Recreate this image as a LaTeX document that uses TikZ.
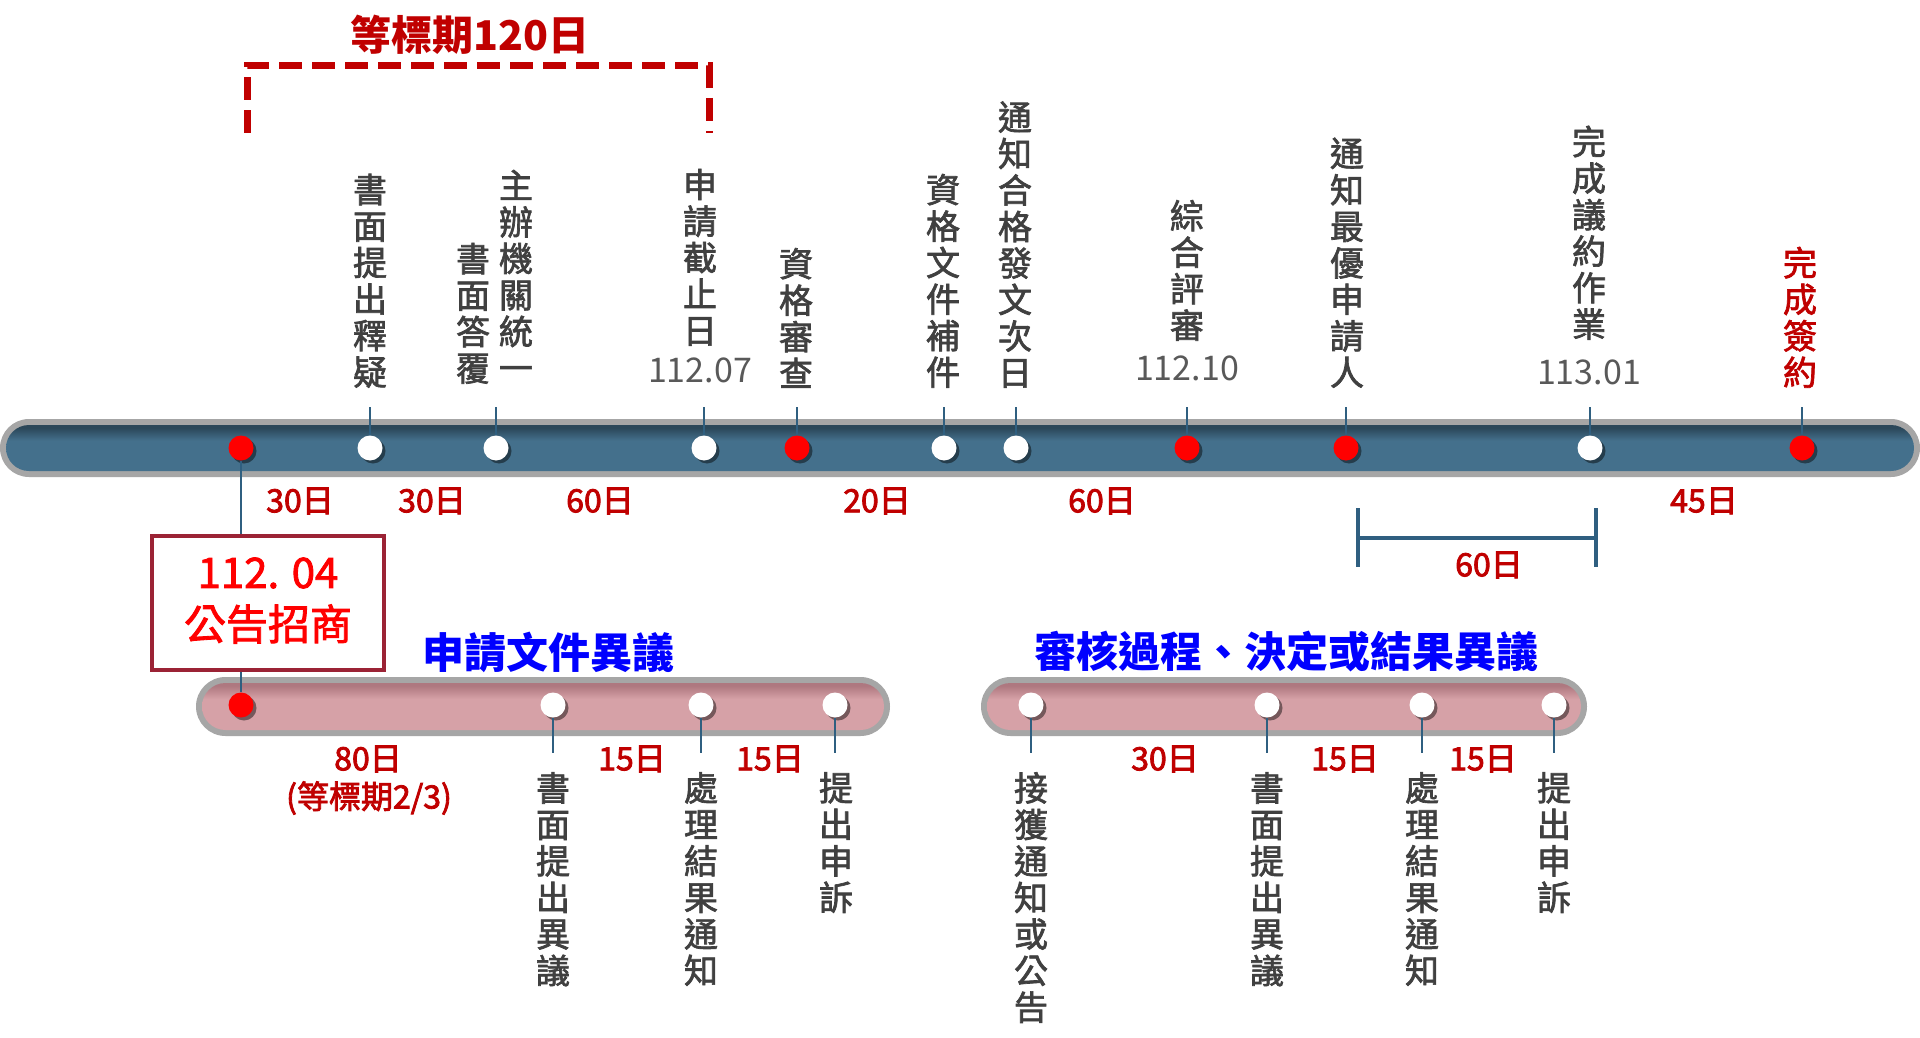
\documentclass[tikz,border=0pt]{standalone}
\usepackage{fontspec}
\setmainfont{Noto Sans CJK TC}
\newfontfamily\labfont[FakeBold=2]{Noto Sans CJK TC}
\newfontfamily\durfont[FakeBold=2.5]{Noto Sans CJK TC}
\usetikzlibrary{shadows}
\definecolor{darkred}{HTML}{C00000}
\definecolor{labgray}{HTML}{404040}
\definecolor{dategray}{HTML}{595959}
\definecolor{barblue}{HTML}{44708C}
\definecolor{barbluedark}{HTML}{2B4759}
\definecolor{barpink}{HTML}{D6A1A7}
\definecolor{barpinkdark}{HTML}{AE7880}
\definecolor{bargray}{HTML}{A6A6A6}
\definecolor{tickblue}{HTML}{2F5F80}
\definecolor{boxred}{HTML}{9B2335}
\definecolor{titleblue}{HTML}{0000FF}
\definecolor{dotred}{HTML}{FF0000}
\pgfdeclareverticalshading{bluebar}{100bp}{color(0bp)=(barblue); color(25bp)=(barblue); color(58bp)=(barblue); color(72bp)=(barbluedark); color(100bp)=(barbluedark)}
\pgfdeclareverticalshading{pinkbar}{100bp}{color(0bp)=(barpink); color(25bp)=(barpink); color(58bp)=(barpink); color(72bp)=(barpinkdark); color(100bp)=(barpinkdark)}
\begin{document}
\begin{tikzpicture}[x=1pt,y=-1pt,
  dotbase/.style={circle, minimum size=25pt, inner sep=0pt,
    drop shadow={shadow xshift=3pt, shadow yshift=-3pt, opacity=0.45, fill=black}},
  dotw/.style={dotbase, fill=white},
  dotr/.style={dotbase, fill=dotred},
  tick/.style={draw=tickblue, line width=1.4pt},
  lab/.style={font=\labfont\fontsize{34}{36.5}\selectfont, text=labgray, align=center, inner sep=0pt},
  labup/.style={lab, anchor=south},
  labdn/.style={lab, anchor=north},
  datelab/.style={font=\fontsize{34}{36}\selectfont, text=dategray, inner sep=0pt},
  dur/.style={font=\durfont\fontsize{32}{34}\selectfont, text=darkred, inner sep=0pt},
  bluetitle/.style={font=\bfseries\fontsize{42}{46}\selectfont, text=titleblue, inner sep=0pt},
  redtitle/.style={font=\bfseries\fontsize{41}{44}\selectfont, text=darkred, inner sep=0pt},
  dashbr/.style={draw=darkred, line width=7pt, dash pattern=on 23pt off 10pt},
  spanbr/.style={draw=tickblue, line width=3.5pt},
  boxstyle/.style={draw=boxred, line width=3.5pt, fill=white, minimum width=232pt, minimum height=134pt, inner sep=0pt},
  boxtext/.style={font=\labfont\fontsize{42}{46}\selectfont, text=dotred, inner sep=0pt}
]
\useasboundingbox (0,0) rectangle (1920,1038);
\fill[white] (0,0) rectangle (1920,1038);

% ---- bars ----
\fill[bargray, rounded corners=29pt] (0,419) rectangle (1920,477);
\shade[shading=bluebar, rounded corners=23pt] (6,425) rectangle (1914,471);
\fill[bargray, rounded corners=29.5pt] (196,677) rectangle (890,736);
\shade[shading=pinkbar, rounded corners=23.5pt] (202,683) rectangle (884,730);
\fill[bargray, rounded corners=29.5pt] (981,677) rectangle (1587,736);
\shade[shading=pinkbar, rounded corners=23.5pt] (987,683) rectangle (1581,730);

% ---- title and dashed bracket ----
\node[redtitle] (t120) at (470,35) {等標期120日};
\coordinate (da) at (247,133);
\coordinate (db) at (247,66);
\coordinate (dc) at (709,66);
\coordinate (dd) at (709,133);
\draw[dashbr] (da) -- (db) -- (dc) -- (dd);

% ---- main bar dots ----
\node[dotr] (m0) at (241,448) {};
\node[dotw] (m1) at (370,448) {};
\node[dotw] (m2) at (496,448) {};
\node[dotw] (m3) at (704,448) {};
\node[dotr] (m4) at (797,448) {};
\node[dotw] (m5) at (944,448) {};
\node[dotw] (m6) at (1016,448) {};
\node[dotr] (m7) at (1187,448) {};
\node[dotr] (m8) at (1346,448) {};
\node[dotw] (m9) at (1590,448) {};
\node[dotr] (m10) at (1802,448) {};

\foreach \n/\x in {m1/370,m2/496,m3/704,m4/797,m5/944,m6/1016,m7/1187,m8/1346,m9/1590,m10/1802}{
  \coordinate (top\n) at (\x,407);
  \draw[tick] (top\n) -- (\n);
}

% ---- labels above ----
\node[labup] (l1) at (370,388) {書\\面\\提\\出\\釋\\疑};
\node[labup] (l2a) at (516,381) {主\\辦\\機\\關\\統\\一};
\node[labup] (l2b) at (473,384) {書\\面\\答\\覆};
\node[labup] (l3) at (700,346) {申\\請\\截\\止\\日};
\node[datelab] (d3) at (700,370) {112.07};
\node[labup] (l4) at (796,388) {資\\格\\審\\查};
\node[labup] (l5) at (943,388) {資\\格\\文\\件\\補\\件};
\node[labup] (l6) at (1015,388) {通\\知\\合\\格\\發\\文\\次\\日};
\node[labup] (l7) at (1187,341) {綜\\合\\評\\審};
\node[datelab] (d7) at (1187,368) {112.10};
\node[labup] (l8) at (1347,388) {通\\知\\最\\優\\申\\請\\人};
\node[labup] (l9) at (1589,340) {完\\成\\議\\約\\作\\業};
\node[datelab] (d9) at (1589,372) {113.01};
\node[labup, text=darkred] (l10) at (1800,388) {完\\成\\簽\\約};

% ---- durations main ----
\node[dur] (w1) at (300,501) {30日};
\node[dur] (w2) at (432,501) {30日};
\node[dur] (w3) at (600,501) {60日};
\node[dur] (w4) at (877,501) {20日};
\node[dur] (w5) at (1102,501) {60日};
\node[dur] (w6) at (1704,501) {45日};

% ---- 60 day span ----
\coordinate (sa1) at (1358,508);
\coordinate (sa2) at (1358,567);
\coordinate (sb1) at (1596,508);
\coordinate (sb2) at (1596,567);
\coordinate (sam) at (1358,538);
\coordinate (sbm) at (1596,538);
\draw[spanbr] (sa1) -- (sa2);
\draw[spanbr] (sb1) -- (sb2);
\draw[spanbr] (sam) -- (sbm);
\node[dur] (w7) at (1489,565) {60日};

% ---- announcement box ----
\node[boxstyle] (box) at (268,603) {};
\node[boxtext] (bx1) at (268,573) {112. 04};
\node[boxtext] (bx2) at (268,624) {公告招商};

% ---- pink bar 1 ----
\node[dotr] (p0) at (241,705) {};
\node[dotw] (p1) at (553,705) {};
\node[dotw] (p2) at (701,705) {};
\node[dotw] (p3) at (835,705) {};
\draw[tick] (m0) -- (m0 |- box.north);
\draw[tick] (p0 |- box.south) -- (p0);
\foreach \n/\x in {p1/553,p2/701,p3/835}{
  \coordinate (bot\n) at (\x,753);
  \draw[tick] (\n) -- (bot\n);
}
\node[bluetitle] (tt1) at (548,652) {申請文件異議};
\node[dur] (v1) at (368,759) {80日};
\node[dur] (v1b) at (369,798) {(等標期2/3)};
\node[dur] (v2) at (632,759) {15日};
\node[dur] (v3) at (770,759) {15日};
\node[labdn] (k1) at (553,772) {書\\面\\提\\出\\異\\議};
\node[labdn] (k2) at (701,772) {處\\理\\結\\果\\通\\知};
\node[labdn] (k3) at (836,772) {提\\出\\申\\訴};

% ---- pink bar 2 ----
\node[dotw] (q0) at (1031,705) {};
\node[dotw] (q1) at (1267,705) {};
\node[dotw] (q2) at (1422,705) {};
\node[dotw] (q3) at (1554,705) {};
\foreach \n/\x in {q0/1031,q1/1267,q2/1422,q3/1554}{
  \coordinate (bot\n) at (\x,753);
  \draw[tick] (\n) -- (bot\n);
}
\node[bluetitle] (tt2) at (1286,652) {審核過程、決定或結果異議};
\node[dur] (z1) at (1165,759) {30日};
\node[dur] (z2) at (1345,759) {15日};
\node[dur] (z3) at (1483,759) {15日};
\node[labdn] (n1) at (1031,772) {接\\獲\\通\\知\\或\\公\\告};
\node[labdn] (n2) at (1267,772) {書\\面\\提\\出\\異\\議};
\node[labdn] (n3) at (1422,772) {處\\理\\結\\果\\通\\知};
\node[labdn] (n4) at (1554,772) {提\\出\\申\\訴};
\end{tikzpicture}
\end{document}
